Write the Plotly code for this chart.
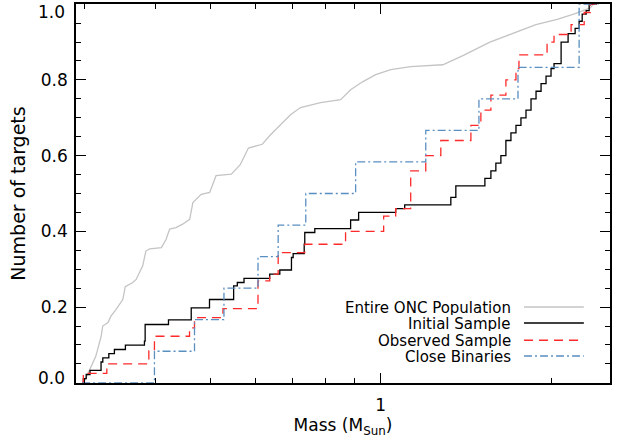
import plotly.graph_objects as go

# ---------------- data ----------------
onc_mass = [0.299, 0.306, 0.314, 0.321, 0.323, 0.330, 0.334, 0.341, 0.3505, 0.354,
            0.365, 0.370, 0.380, 0.385, 0.391, 0.410, 0.418, 0.424, 0.435, 0.447,
            0.460, 0.466, 0.482, 0.499, 0.506, 0.512, 0.545, 0.556, 0.565, 0.584,
            0.618, 0.639, 0.665, 0.693, 0.722, 0.783, 0.850, 0.885, 0.929, 0.980,
            1.042, 1.13, 1.2875, 1.40, 1.559, 1.72, 1.88, 2.05, 2.205, 2.344, 2.373, 2.43]
onc_frac = [0.0, 0.035, 0.07, 0.123, 0.15, 0.159, 0.176, 0.194, 0.22, 0.254,
            0.265, 0.273, 0.309, 0.348, 0.354, 0.357, 0.379, 0.406, 0.41, 0.419,
            0.432, 0.476, 0.498, 0.503, 0.529, 0.547, 0.551, 0.564, 0.576, 0.62,
            0.63, 0.655, 0.68, 0.708, 0.727, 0.74, 0.748, 0.774, 0.795, 0.814,
            0.827, 0.835, 0.84, 0.865, 0.90, 0.925, 0.946, 0.96, 0.975, 0.99, 1.0, 1.0]

init_mass = [0.297, 0.2985, 0.302, 0.3067, 0.3208, 0.3231, 0.3311, 0.3387, 0.3542, 0.3827,
             0.3838, 0.4220, 0.4629, 0.4986, 0.5500, 0.5583, 0.5737, 0.6369, 0.6636, 0.6958,
             0.7006, 0.7328, 0.7345, 0.7651, 0.885, 0.9143, 1.063, 1.1027, 1.3302, 1.3576,
             1.5278, 1.5655, 1.5975, 1.6305, 1.664, 1.6985, 1.7336, 1.7691, 1.8057, 1.843,
             1.881, 1.9198, 1.9591, 1.9993, 2.0238, 2.0829, 2.1429, 2.2051, 2.2411, 2.2693,
             2.3063, 2.3345, 2.41]
init_frac = [0.0, 0.011, 0.022, 0.033, 0.055, 0.066, 0.077, 0.088, 0.0996, 0.11,
             0.154, 0.166, 0.198, 0.22, 0.256, 0.265, 0.276, 0.287, 0.298, 0.331,
             0.341, 0.366, 0.397, 0.407, 0.43, 0.45, 0.46, 0.47, 0.49, 0.52,
             0.54, 0.56, 0.58, 0.60, 0.64, 0.66, 0.68, 0.70, 0.72, 0.75,
             0.77, 0.79, 0.81, 0.83, 0.843, 0.90, 0.922, 0.936, 0.955, 0.974,
             0.983, 1.0, 1.0]

obs_mass = [0.297, 0.2985, 0.3284, 0.3896, 0.3986, 0.4597, 0.4691, 0.5266, 0.6073, 0.6369,
            0.6592, 0.7345, 0.867, 1.0123, 1.063, 1.13, 1.2013, 1.2771, 1.4433, 1.5031,
            1.5655, 1.6640, 1.7336, 1.7548, 1.9672, 2.0238, 2.1693, 2.2877, 2.3441, 2.41]
obs_frac = [0.0, 0.025, 0.05, 0.084, 0.123, 0.145, 0.172, 0.196, 0.269, 0.287,
            0.344, 0.366, 0.40, 0.44, 0.46, 0.56, 0.60, 0.64, 0.68, 0.72,
            0.76, 0.80, 0.83, 0.866, 0.90, 0.92, 0.946, 0.978, 1.0, 1.0]

bin_mass = [0.297, 0.3986, 0.4691, 0.5288, 0.6073, 0.6592, 0.7375, 0.9032, 1.2013, 1.4912,
            1.7478, 2.2411, 2.43]
bin_frac = [0.0, 0.0833, 0.1667, 0.25, 0.3333, 0.4167, 0.5, 0.5833, 0.6667, 0.75,
            0.8333, 1.0, 1.0]

y_major = [0.0, 0.2, 0.4, 0.6, 0.8, 1.0]
y_major_text = ["0.0", "0.2", "0.4", "0.6", "0.8", "1.0"]
y_minor = [0.05, 0.1, 0.15, 0.25, 0.3, 0.35, 0.45, 0.5, 0.55, 0.65, 0.7, 0.75, 0.85, 0.9, 0.95]
x_major = [1]
x_major_text = ["1"]
x_minor = [0.3, 0.4, 0.5, 0.6, 0.7, 0.8, 0.9, 2]

series_names = ["Entire ONC Population", "Initial Sample", "Observed Sample", "Close Binaries"]

# ---------------- styles ----------------
GRAY = "#c4c4c4"
BLACK = "#000000"
RED = "#ff2a2a"
BLUE = "#5a8fc2"
RED_DASH = "9px,6px"
BLUE_DASH = "8px,3px,2px,3px"
FONT = "DejaVu Sans"

fig = go.Figure()
fig.add_trace(go.Scatter(x=onc_mass, y=onc_frac, mode="lines",
                         line=dict(color=GRAY, width=1.3), name=series_names[0]))
fig.add_trace(go.Scatter(x=init_mass, y=init_frac, mode="lines", line_shape="hv",
                         line=dict(color=BLACK, width=1.3), name=series_names[1]))
fig.add_trace(go.Scatter(x=obs_mass, y=obs_frac, mode="lines", line_shape="hv",
                         line=dict(color=RED, width=1.3, dash=RED_DASH), name=series_names[2]))
fig.add_trace(go.Scatter(x=bin_mass, y=bin_frac, mode="lines", line_shape="hv",
                         line=dict(color=BLUE, width=1.3, dash=BLUE_DASH), name=series_names[3]))

# custom legend: text on the left, line sample on the right
leg_y = [0.2005, 0.158, 0.113, 0.071]
leg_colors = [GRAY, BLACK, RED, BLUE]
leg_dash = ["solid", "solid", RED_DASH, BLUE_DASH]
for i, name in enumerate(series_names):
    fig.add_annotation(x=0.818, y=leg_y[i], xref="paper", yref="paper", text=name,
                       showarrow=False, xanchor="right", yanchor="middle", height=15,
                       font=dict(family=FONT, size=15, color="black"))
    fig.add_shape(type="line", xref="paper", yref="paper", x0=0.839, x1=0.951,
                  y0=leg_y[i], y1=leg_y[i],
                  line=dict(color=leg_colors[i], width=1.5, dash=leg_dash[i]))

# end labels of the y axis are pulled inside the frame, as in the reference
inner_vals = [v for v in y_major if 0 < v < 1]
inner_text = [t for v, t in zip(y_major, y_major_text) if 0 < v < 1]
for v, t, shift in [(y_major[0], y_major_text[0], 5), (y_major[-1], y_major_text[-1], -8)]:
    fig.add_annotation(x=0, xref="paper", y=v, yref="y", text=t, showarrow=False,
                       xanchor="right", yanchor="middle", xshift=-9, yshift=shift,
                       font=dict(family=FONT, size=17, color="black"))

fig.update_xaxes(type="log", range=[-0.538, 0.405], automargin=False,
                 tickmode="array", tickvals=x_major, ticktext=x_major_text,
                 ticks="inside", ticklen=10, tickwidth=1.2, tickcolor="black",
                 minor=dict(tickmode="array", tickvals=x_minor, ticks="inside",
                            ticklen=5, tickwidth=1.2, tickcolor="black", showgrid=False),
                 showline=True, linecolor="black", linewidth=1.5, mirror="ticks",
                 showgrid=False, zeroline=False, ticklabeloverflow="allow",
                 ticklabelstandoff=6,
                 tickfont=dict(family=FONT, size=17, color="black"),
                 title=dict(text="Mass (M<sub>Sun</sub>)", standoff=4,
                            font=dict(family=FONT, size=17, color="black")))
fig.update_yaxes(range=[-0.0005, 1.0005], automargin=False,
                 tickmode="array", tickvals=inner_vals, ticktext=inner_text,
                 ticks="inside", ticklen=10, tickwidth=1.2, tickcolor="black",
                 minor=dict(tickmode="array", tickvals=y_minor, ticks="inside",
                            ticklen=5, tickwidth=1.2, tickcolor="black", showgrid=False),
                 showline=True, linecolor="black", linewidth=1.5, mirror="ticks",
                 showgrid=False, zeroline=False, ticklabeloverflow="allow",
                 ticklabelstandoff=3,
                 tickfont=dict(family=FONT, size=17, color="black"),
                 title=dict(text="Number of targets", standoff=10,
                            font=dict(family=FONT, size=19, color="black")))

fig.update_layout(width=619, height=443, margin=dict(l=76, r=9, t=4, b=60),
                  plot_bgcolor="white", paper_bgcolor="white", showlegend=False)

fig.write_html("out.html", config={"displayModeBar": False},
               post_script="document.body.style.margin='0';")
